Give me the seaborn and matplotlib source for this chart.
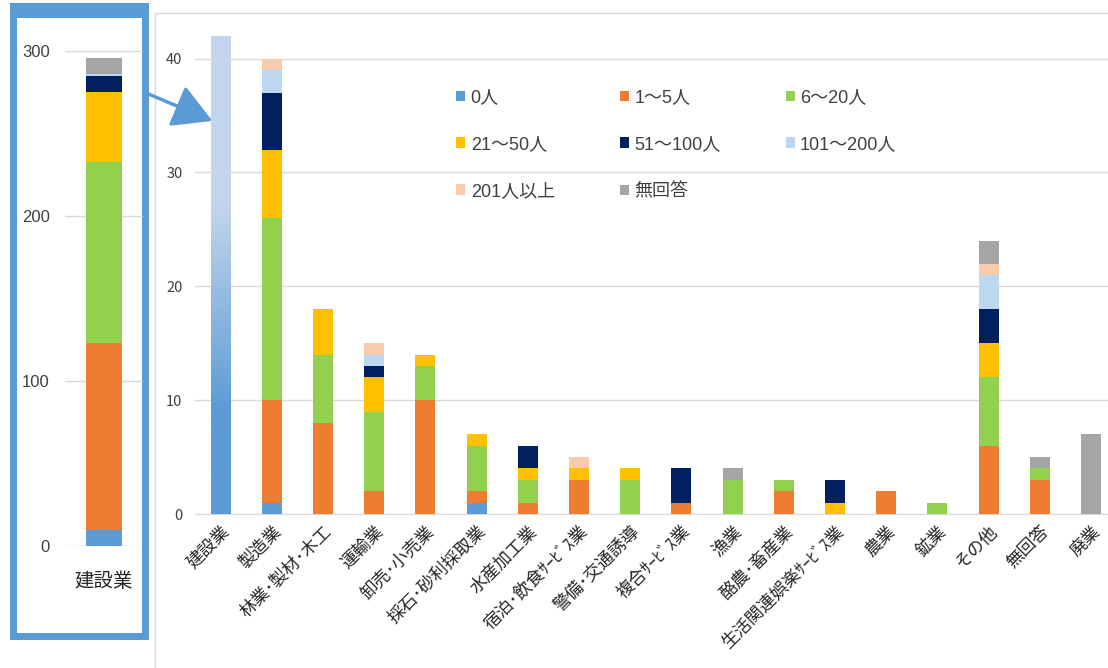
import numpy as np
import seaborn as sns
import matplotlib.pyplot as plt
from matplotlib.patches import Rectangle, FancyArrowPatch, Patch
from matplotlib.colors import LinearSegmentedColormap

# 業種別・従業員規模別の回答数
categories = ['建設業', '製造業', '林業･製材･木工', '運輸業', '卸売･小売業', '採石･砂利採取業',
              '水産加工業', '宿泊･飲食ｻｰﾋﾞｽ業', '警備･交通誘導', '複合ｻｰﾋﾞｽ業', '漁業',
              '酪農･畜産業', '生活関連娯楽ｻｰﾋﾞｽ業', '農業', '鉱業', 'その他', '無回答', '廃業']
series_labels = ['0人', '1～5人', '6～20人', '21～50人', '51～100人', '101～200人', '201人以上', '無回答']
series_colors = ['#5B9BD5', '#ED7D31', '#92D050', '#FFC000', '#002060', '#BDD7EE', '#F8CBAD', '#A5A5A5']

n_0 = [0, 1, 0, 0, 0, 1, 0, 0, 0, 0, 0, 0, 0, 0, 0, 0, 0, 0]
n_1_5 = [0, 9, 8, 2, 10, 1, 1, 3, 0, 1, 0, 2, 0, 2, 0, 6, 3, 0]
n_6_20 = [0, 16, 6, 7, 3, 4, 2, 0, 3, 0, 3, 1, 0, 0, 1, 6, 1, 0]
n_21_50 = [0, 6, 4, 3, 1, 1, 1, 1, 1, 0, 0, 0, 1, 0, 0, 3, 0, 0]
n_51_100 = [0, 5, 0, 1, 0, 0, 2, 0, 0, 3, 0, 0, 2, 0, 0, 3, 0, 0]
n_101_200 = [0, 2, 0, 1, 0, 0, 0, 0, 0, 0, 0, 0, 0, 0, 0, 3, 0, 0]
n_201 = [0, 1, 0, 1, 0, 0, 0, 1, 0, 0, 0, 0, 0, 0, 0, 1, 0, 0]
n_none = [0, 0, 0, 0, 0, 0, 0, 0, 0, 0, 1, 0, 0, 0, 0, 2, 1, 7]

# 建設業は別枠（左）に表示、本体では省略した棒
kensetsu_values = [10, 113, 110, 42, 10, 1, 0, 10]
kensetsu_cut = 42

series = [n_0, n_1_5, n_6_20, n_21_50, n_51_100, n_101_200, n_201, n_none]

sns.set_style('white')
plt.rcParams['font.family'] = ['Noto Sans CJK JP', 'DejaVu Sans']
latin_first = ['Liberation Sans', 'Noto Sans CJK JP']

W, H = 1108, 668
fig = plt.figure(figsize=(W / 100, H / 100), dpi=100)


def fx(px):
    return px / W


def fy(py):
    return 1 - py / H


# blue frame around inset
fig.patches.append(Rectangle((fx(10), fy(640)), fx(139), (640 - 3) / H, transform=fig.transFigure,
                             facecolor='#5B9BD5', edgecolor='none', zorder=-2))
fig.patches.append(Rectangle((fx(17), fy(633)), fx(125), (633 - 18) / H, transform=fig.transFigure,
                             facecolor='white', edgecolor='none', zorder=-1))
# chart area border
fig.patches.append(Rectangle((fx(155), fy(700)), fx(1000), (700 - 13) / H, transform=fig.transFigure,
                             facecolor='none', edgecolor='#D9D9D9', lw=1, zorder=-1))

# ---- inset: 建設業 ----
ax_in = fig.add_axes([fx(65), fy(546), fx(78), (546 - 51) / H])
ax_in.set_facecolor('none')
bottom = 0
for val, col in zip(kensetsu_values, series_colors):
    sns.barplot(x=['建設業'], y=[val], bottom=bottom, color=col, width=0.45, saturation=1,
                linewidth=0, errorbar=None, ax=ax_in, zorder=3)
    bottom += val
ax_in.set_ylim(0, 300)
ax_in.set_xlim(-0.5, 0.5)
ax_in.set_yticks([0, 100, 200, 300])
ax_in.yaxis.grid(True, color='#D9D9D9', lw=1)
ax_in.set_axisbelow(True)
for s in ax_in.spines.values():
    s.set_visible(False)
ax_in.tick_params(length=0, labelsize=12, labelcolor='#404040', pad=11)
for t in ax_in.get_yticklabels():
    t.set_family(latin_first)
ax_in.tick_params(axis='x', labelsize=14, pad=18, labelcolor='#262626')
ax_in.set_xlabel('')
ax_in.set_ylabel('')

# ---- main chart ----
ax = fig.add_axes([fx(195), fy(514), fx(913), (514 - 13) / H])
ax.set_facecolor('none')
bottom = np.zeros(len(categories))
for vals, col in zip(series, series_colors):
    sns.barplot(x=categories, y=vals, bottom=bottom, color=col, width=0.39, saturation=1,
                linewidth=0, errorbar=None, ax=ax, zorder=3)
    bottom = bottom + np.array(vals)

# truncated 建設業 bar with gradient
sns.barplot(x=[categories[0]], y=[kensetsu_cut], color='#5B9BD5', width=0.39, saturation=1,
            linewidth=0, errorbar=None, ax=ax, zorder=3)
bar = ax.containers[-1][0]
x0 = bar.get_x()
x1 = x0 + bar.get_width()
yy = np.linspace(0, kensetsu_cut, 256)
grad = np.interp(yy, [0, 9, 27, kensetsu_cut], [0, 0, 1, 1]).reshape(-1, 1)
cmap = LinearSegmentedColormap.from_list('kensetsu', ['#5B9BD5', '#C3D5EC'])
im = ax.imshow(grad, cmap=cmap, extent=[x0, x1, 0, kensetsu_cut], origin='lower',
               aspect='auto', zorder=4)
im.set_clip_path(bar)

ax.set_xlim(-0.5, -0.5 + 913 / 51.2)
ax.set_ylim(0, 44)
ax.set_yticks([0, 10, 20, 30, 40])
ax.yaxis.grid(True, color='#D9D9D9', lw=1)
ax.set_axisbelow(True)
for name, s in ax.spines.items():
    s.set_visible(name == 'bottom')
ax.spines['bottom'].set_color('#D9D9D9')
ax.tick_params(length=0, labelsize=10.5, labelcolor='#404040')
ax.tick_params(axis='y', pad=9)
ax.set_xticks(range(len(categories)))
ax.set_xticklabels(categories, rotation=45, ha='right', va='top', rotation_mode='anchor',
                   fontsize=12.5, color='#262626')
ax.tick_params(axis='x', pad=6)
ax.set_xlabel('')
ax.set_ylabel('')

# legend (row-major order in 3 columns)
handles = [Patch(facecolor=c, edgecolor='none') for c in series_colors]
order = [0, 3, 6, 1, 4, 7, 2, 5]
ax.legend([handles[i] for i in order], [series_labels[i] for i in order], ncol=3,
          loc='upper left', bbox_to_anchor=(fx(440), fy(73)), bbox_transform=fig.transFigure,
          frameon=False, prop={'family': latin_first, 'size': 13}, handlelength=0.5,
          handleheight=0.5, handletextpad=0.3, columnspacing=3.6, labelspacing=1.65,
          labelcolor='#404040')

# arrow from inset to main chart
fig.patches.append(FancyArrowPatch((fx(146), fy(93)), (fx(215), fy(122)), transform=fig.transFigure,
                                   arrowstyle='-|>,head_length=0.8,head_width=0.45', mutation_scale=30,
                                   color='#5B9BD5', lw=2.5, zorder=5))

fig.savefig('out.png', dpi=100)
